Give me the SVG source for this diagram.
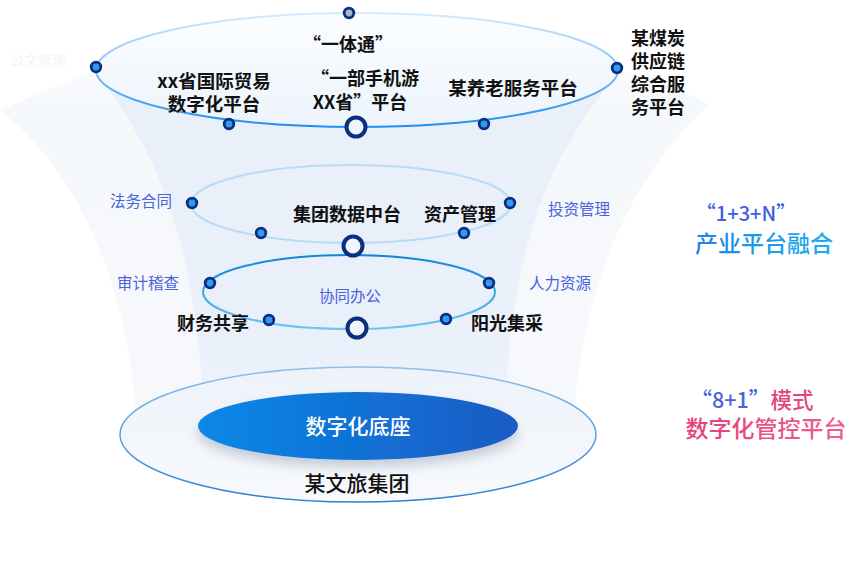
<svg xmlns="http://www.w3.org/2000/svg" width="865" height="564" viewBox="0 0 865 564">
<defs>
<style>
text{font-family:"Noto Sans CJK SC","Noto Sans",sans-serif;dominant-baseline:central;text-anchor:middle}
.b{font-size:18px;font-weight:700;fill:#111}
.s{font-size:15.5px;font-weight:400;fill:#4a63d8}
.dot{fill:#2f9cf2;stroke:#0b2f7e;stroke-width:2.8}
.ring{fill:#eef5fc;stroke:#0b2f7e;stroke-width:4}
</style>
<linearGradient id="gOuter" x1="0" y1="0" x2="0" y2="1">
<stop offset="0" stop-color="#f4f7fb" stop-opacity="0"/>
<stop offset="0.2" stop-color="#f4f7fb" stop-opacity="0.85"/>
<stop offset="1" stop-color="#f6f8fc"/>
</linearGradient>
<linearGradient id="gInner" x1="0" y1="0" x2="0" y2="1">
<stop offset="0" stop-color="#e9f0fa"/>
<stop offset="0.7" stop-color="#e9f0fa"/>
<stop offset="1" stop-color="#eff4fb"/>
</linearGradient>
<linearGradient id="gTopStroke" x1="0" y1="0" x2="0" y2="1">
<stop offset="0" stop-color="#d6eafb"/>
<stop offset="0.5" stop-color="#7fc0f4"/>
<stop offset="1" stop-color="#1e8fee"/>
</linearGradient>
<linearGradient id="gTopFill" x1="0" y1="0" x2="0" y2="1">
<stop offset="0" stop-color="#fbfdff"/>
<stop offset="1" stop-color="#edf4fc"/>
</linearGradient>
<linearGradient id="gE3" x1="0" y1="0" x2="0" y2="1">
<stop offset="0" stop-color="#0f86d4"/>
<stop offset="1" stop-color="#6cc6f2"/>
</linearGradient>
<linearGradient id="gBaseStroke" x1="0" y1="0" x2="0" y2="1">
<stop offset="0" stop-color="#8cc0ea"/>
<stop offset="1" stop-color="#2f7fd0"/>
</linearGradient>
<linearGradient id="gBaseFill" x1="0" y1="0" x2="0" y2="1">
<stop offset="0" stop-color="#eef3fa"/>
<stop offset="1" stop-color="#f7f9fc"/>
</linearGradient>
<linearGradient id="gBlue" x1="0" y1="0" x2="1" y2="0">
<stop offset="0" stop-color="#0788e6"/>
<stop offset="1" stop-color="#1b5bc4"/>
</linearGradient>
<linearGradient id="gCyan" x1="0" y1="0" x2="1" y2="0">
<stop offset="0" stop-color="#1f84e6"/>
<stop offset="1" stop-color="#20acec"/>
</linearGradient>
<linearGradient id="gPink" x1="0" y1="0" x2="1" y2="0">
<stop offset="0" stop-color="#e4407a"/>
<stop offset="1" stop-color="#ee5f8c"/>
</linearGradient>
<filter id="shadow" x="-20%" y="-30%" width="140%" height="180%">
<feDropShadow dx="0" dy="7" stdDeviation="6" flood-color="#6a7a90" flood-opacity="0.35"/>
</filter>
</defs>
<rect width="865" height="564" fill="#ffffff"/>

<g id="funnel">
<path d="M0,110 C75,170 132,280 138,445 L572,445 C578,290 630,175 710,105 C680,88 650,76 618,70 A261,57 0 0 0 96,70 C60,84 30,98 0,110 Z" fill="url(#gOuter)"/>
<path d="M105,85 C165,165 200,260 205,445 L505,445 C505,260 545,165 609,85 A261,57 0 0 0 105,85 Z" fill="url(#gInner)"/>
</g>

<g id="connectors">
<ellipse cx="357" cy="70" rx="261" ry="57" fill="url(#gTopFill)" stroke="url(#gTopStroke)" stroke-width="2"/>
<ellipse cx="351" cy="204" rx="160" ry="39" fill="none" stroke="#b8dcf6" stroke-width="2"/>
<ellipse cx="349" cy="292" rx="146" ry="37" fill="none" stroke="url(#gE3)" stroke-width="2"/>
</g>

<g id="dots">
<circle class="dot" cx="96" cy="67" r="4.8"/>
<circle class="dot" cx="617" cy="68" r="4.8"/>
<circle class="dot" cx="349" cy="13" r="4.8" style="fill:#a9b6ca"/>
<circle class="dot" cx="229" cy="124" r="4.8"/>
<circle class="dot" cx="484" cy="124" r="4.8"/>
<circle class="ring" cx="356" cy="127" r="9.5"/>
<circle class="dot" cx="192" cy="203" r="4.8"/>
<circle class="dot" cx="510" cy="203" r="4.8"/>
<circle class="dot" cx="261" cy="233" r="4.8"/>
<circle class="dot" cx="464" cy="233" r="4.8"/>
<circle class="ring" cx="353" cy="246" r="9.5"/>
<circle class="dot" cx="210" cy="283" r="4.8"/>
<circle class="dot" cx="489" cy="283" r="4.8"/>
<circle class="dot" cx="269" cy="320" r="4.8"/>
<circle class="dot" cx="446" cy="319" r="4.8"/>
<circle class="ring" cx="357" cy="328" r="9.5"/>
</g>

<g id="n-faint"><text x="38" y="59" style="font-size:14px;fill:#f1f4f9">公文管理</text></g>
<g id="n-yititong"><text class="b" x="348" y="43">“一体通”</text></g>
<g id="n-trade"><text class="b" x="214" y="80" style="font-size:18.5px"><tspan x="214" y="80">xx省国际贸易</tspan><tspan x="214" y="103">数字化平台</tspan></text></g>
<g id="n-travel"><text class="b"><tspan x="365" y="77">“一部手机游</tspan><tspan x="360" y="101">XX省”平台</tspan></text></g>
<g id="n-elder"><text class="b" x="513" y="87" style="font-size:18.5px">某养老服务平台</text></g>
<g id="n-coal"><text class="b" style="text-anchor:start"><tspan x="631" y="37">某煤炭</tspan><tspan x="631" y="60">供应链</tspan><tspan x="631" y="83">综合服</tspan><tspan x="631" y="106">务平台</tspan></text></g>

<g id="n-legal"><text class="s" x="141" y="200">法务合同</text></g>
<g id="n-data"><text class="b" x="347" y="213">集团数据中台</text></g>
<g id="n-asset"><text class="b" x="460" y="213">资产管理</text></g>
<g id="n-invest"><text class="s" x="579" y="208">投资管理</text></g>
<g id="n-audit"><text class="s" x="148" y="282">审计稽查</text></g>
<g id="n-office"><text class="s" x="350" y="295">协同办公</text></g>
<g id="n-hr"><text class="s" x="560" y="282">人力资源</text></g>
<g id="n-finance"><text class="b" x="213" y="322">财务共享</text></g>
<g id="n-purchase"><text class="b" x="507" y="322">阳光集采</text></g>

<g id="n-base">
<ellipse cx="358" cy="434.5" rx="238" ry="67.5" fill="url(#gBaseFill)" stroke="url(#gBaseStroke)" stroke-width="1.5"/>
<ellipse cx="358" cy="426" rx="160" ry="34" fill="url(#gBlue)" filter="url(#shadow)"/>
<text x="358" y="425" style="font-size:21px;font-weight:500;fill:#ffffff">数字化底座</text>
<text x="357" y="482" style="font-size:21px;font-weight:500;fill:#111">某文旅集团</text>
</g>

<g id="n-13n">
<text x="746" y="212" style="font-size:20px;font-weight:500;fill:#3f5fdc">“1+3+N”</text>
<text x="764" y="242" style="font-size:23px;font-weight:500;fill:url(#gCyan)">产业平台融合</text>
</g>
<g id="n-81">
<text x="752" y="398" style="font-size:21.5px;font-weight:500"><tspan fill="#4a63dc">“8+1”</tspan><tspan fill="#e2477e">模式</tspan></text>
<text x="766" y="427" style="font-size:23px;font-weight:500;fill:url(#gPink)">数字化管控平台</text>
</g>
</svg>
